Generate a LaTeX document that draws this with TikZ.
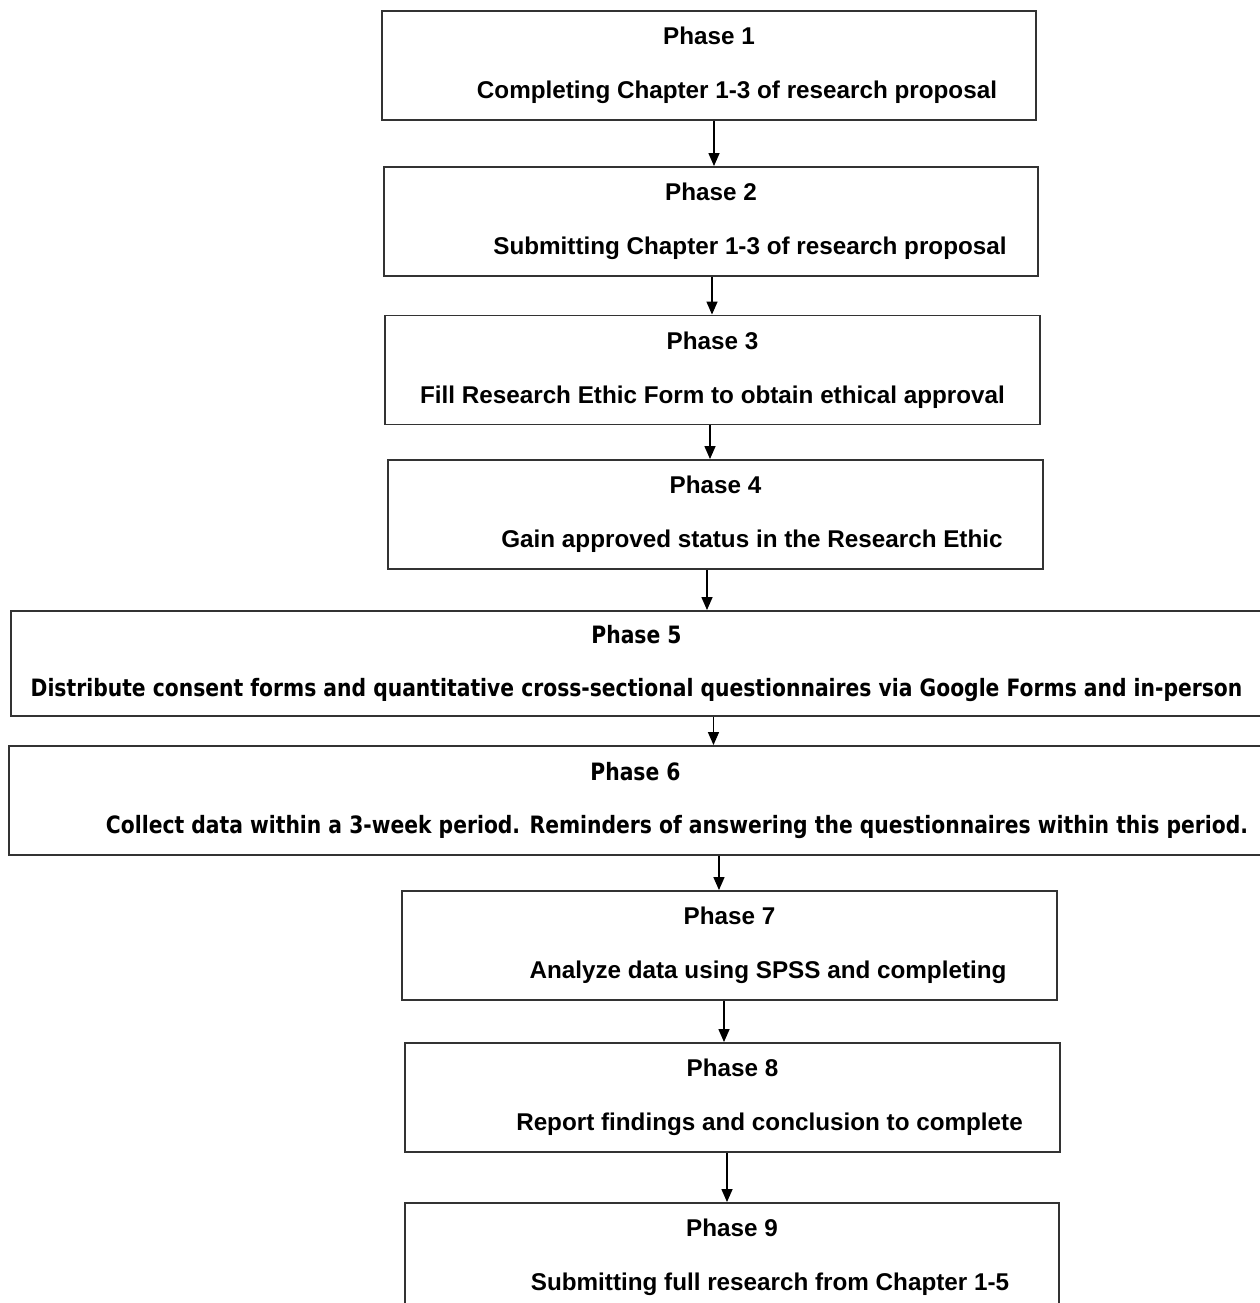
\documentclass[tikz,border=0pt]{standalone}
\usepackage{fontspec}
\setmainfont{Liberation Sans}
\newfontfamily\widefamily[FakeStretch=0.85]{DejaVu Sans}
\usepackage{tikz}
\usetikzlibrary{positioning, arrows.meta}
\newcommand{\phasefont}{\fontsize{13.8pt}{16.5pt}\selectfont\bfseries}
\newcommand{\widefont}{\widefamily\fontsize{13.6pt}{16.5pt}\selectfont\bfseries}
\tikzstyle{phasebox} = [rectangle, draw=black!80, line width=1.1pt, align=center, minimum width=13.1cm, minimum height=2.18cm, inner sep=0pt, font=\phasefont]
\tikzstyle{widebox} = [phasebox, minimum width=25.04cm, minimum height=2.1cm, font=\widefont]
\tikzstyle{line} = [draw, line width=0.8pt, -{Triangle[length=2.6mm, width=2.2mm]}]

\begin{document}
\begin{tikzpicture}[x=0.02cm, y=-0.02cm]
    \useasboundingbox (0,0) rectangle (1260,1303);

    \node (phase1) [phasebox] at (709,65.5) {Phase 1\\[14pt]\hspace*{1.12cm}Completing Chapter 1-3 of research proposal};
    \node (phase2) [phasebox] at (711,221.5) {Phase 2\\[14pt]\hspace*{1.56cm}Submitting Chapter 1-3 of research proposal};
    \node (phase3) [phasebox] at (712.5,370) {Phase 3\\[14pt]Fill Research Ethic Form to obtain ethical approval};
    \node (phase4) [phasebox] at (715.5,514.5) {Phase 4\\[14pt]\hspace*{1.46cm}Gain approved status in the Research Ethic};
    \node (phase5) [widebox] at (636.5,663.5) {Phase 5\\[14pt]Distribute consent forms and quantitative cross-sectional questionnaires via Google Forms and in-person};
    \node (phase6) [widebox, minimum width=25.06cm, minimum height=2.18cm] at (635.5,800.5) {Phase 6\\[14pt]\hspace*{1.66cm}Collect data within a 3-week period. Reminders of answering the questionnaires within this period.};
    \node (phase7) [phasebox] at (729.5,945.5) {Phase 7\\[14pt]\hspace*{1.54cm}Analyze data using SPSS and completing};
    \node (phase8) [phasebox] at (732.5,1097.5) {Phase 8\\[14pt]\hspace*{1.48cm}Report findings and conclusion to complete};
    \node (phase9) [phasebox] at (732,1257.5) {Phase 9\\[14pt]\hspace*{1.52cm}Submitting full research from Chapter 1-5};

    \path [line] ([xshift=0.1cm]phase1.south) -- ([xshift=0.1cm]phase1.south |- phase2.north);
    \path [line] ([xshift=0.02cm]phase2.south) -- ([xshift=0.02cm]phase2.south |- phase3.north);
    \path [line] ([xshift=-0.05cm]phase3.south) -- ([xshift=-0.05cm]phase3.south |- phase4.north);
    \path [line] ([xshift=-0.17cm]phase4.south) -- ([xshift=-0.17cm]phase4.south |- phase5.north);
    \path [line] ([xshift=1.54cm]phase5.south) -- ([xshift=1.54cm]phase5.south |- phase6.north);
    \path [line] ([xshift=1.67cm]phase6.south) -- ([xshift=1.67cm]phase6.south |- phase7.north);
    \path [line] ([xshift=-0.11cm]phase7.south) -- ([xshift=-0.11cm]phase7.south |- phase8.north);
    \path [line] ([xshift=-0.11cm]phase8.south) -- ([xshift=-0.11cm]phase8.south |- phase9.north);

\end{tikzpicture}
\end{document}
